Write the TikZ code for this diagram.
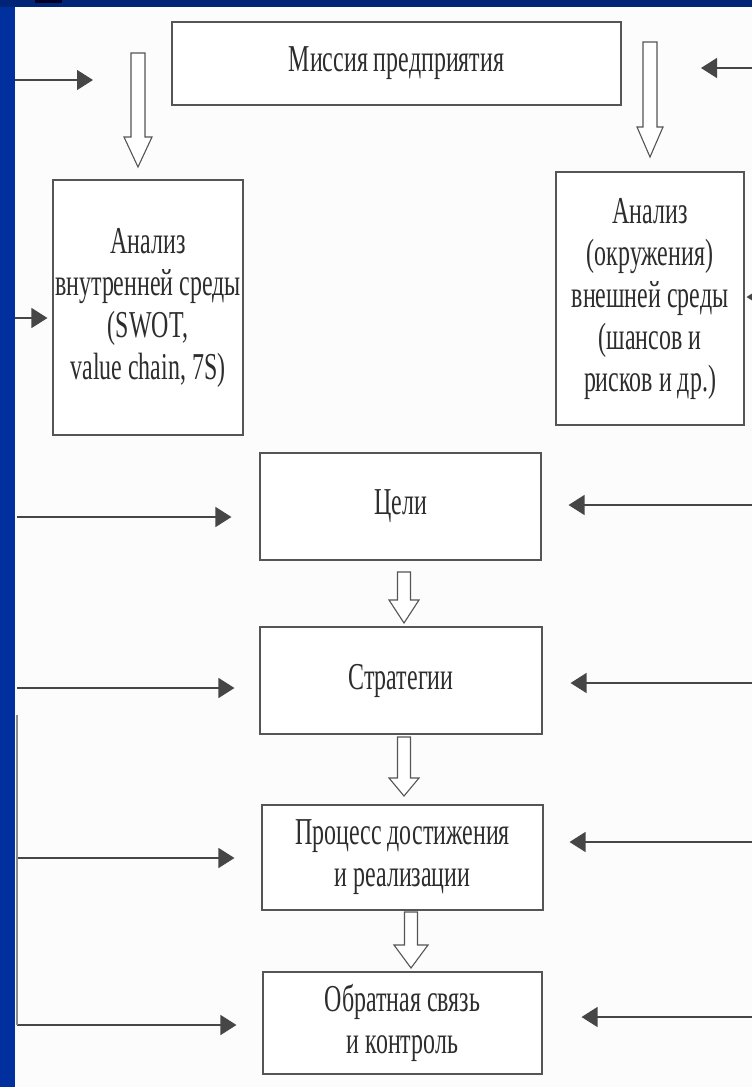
\documentclass[tikz,border=0pt]{standalone}
\usepackage{fontspec}
\setmainfont{Liberation Serif}[FakeStretch=0.63]
\usetikzlibrary{arrows.meta}
\definecolor{ink}{RGB}{45,45,45}
\definecolor{linec}{RGB}{85,85,85}
\definecolor{headc}{RGB}{70,70,70}
\definecolor{navy}{RGB}{0,36,118}
\definecolor{blueside}{RGB}{0,48,158}
\definecolor{paper}{RGB}{252,252,252}
\newcommand\hollowdown[6]{%
  \draw[hollow] (#1-#5,#2) -- (#1+#5,#2) -- (#1+#5,#3) -- (#1+#6,#3) -- (#1,#4)
    -- (#1-#6,#3) -- (#1-#5,#3) -- cycle;}
\begin{document}
\begin{tikzpicture}[x=1pt,y=-1pt,
  box/.style={draw=linec, line width=1.1pt, fill=white, align=center, text=ink,
    inner sep=0pt, font=\fontsize{38}{42}\selectfont},
  feed/.style={draw=headc, line width=1.3pt, -{Triangle[length=16pt,width=20pt]}},
  plainline/.style={draw=black!45, line width=1.1pt},
  hollow/.style={draw=linec, line width=1.1pt, fill=white, line join=miter}]
\useasboundingbox (0,0) rectangle (752,1087);
\fill[paper] (0,0) rectangle (752,1087);
\begin{scope}
\clip (0,0) rectangle (752,1087);
% boxes
\node[box, minimum width=449pt, minimum height=83pt] (mission) at (396.5,63.5) {Миссия предприятия};
\node[box, minimum width=190pt, minimum height=255pt] (internal) at (148,307.5)
  {Анализ\\внутренней среды\\(SWOT,\\value chain, 7S)};
\node[box, minimum width=188pt, minimum height=253pt] (external) at (650,298.5)
  {Анализ\\(окружения)\\внешней среды\\(шансов и\\рисков и др.)};
\node[box, minimum width=281pt, minimum height=107pt] (goals) at (400.5,506.5) {Цели};
\node[box, minimum width=282pt, minimum height=107pt] (strat) at (401,680.5) {Стратегии};
\node[box, minimum width=281pt, minimum height=105pt] (proc) at (402.5,857.5)
  {Процесс достижения\\и реализации};
\node[box, minimum width=279pt, minimum height=102pt] (fb) at (402.5,1023)
  {Обратная связь\\и контроль};
% hollow block arrows
\hollowdown{138}{53}{137}{167}{7}{14}
\hollowdown{650}{42}{127}{157}{7}{13}
\hollowdown{404}{572}{600}{623}{6.5}{15}
\hollowdown{404}{737}{778}{796}{6.5}{15}
\hollowdown{411}{912}{945}{968}{6.5}{17}
% left feeds
\coordinate (l0) at (15,80); \coordinate (l0t) at (93,80);
\coordinate (l1) at (15,318);
\coordinate (l2) at (17,517);
\coordinate (l3) at (17,688);
\coordinate (l4) at (17,858);
\coordinate (l5) at (17,1025);
\coordinate (lv) at (17,715);
\draw[feed] (l0) -- (l0t);
\draw[feed, shorten >=5pt] (l1) -- (internal.west |- l1);
\draw[feed, shorten >=28pt] (l2) -- (goals.west |- l2);
\draw[feed, shorten >=25pt] (l3) -- (strat.west |- l3);
\draw[feed, shorten >=27pt] (l4) -- (proc.west |- l4);
\draw[feed, shorten >=26pt] (l5) -- (fb.west |- l5);
\draw[plainline] (lv) -- (l5);
% right feeds
\coordinate (r0) at (752,68); \coordinate (r0t) at (701,68);
\coordinate (r1) at (770,297);
\coordinate (r2) at (752,505);
\coordinate (r3) at (752,683);
\coordinate (r4) at (752,842);
\coordinate (r5) at (752,1017);
\draw[feed] (r0) -- (r0t);
\draw[feed, shorten >=2pt] (r1) -- (external.east |- r1);
\draw[feed, shorten >=27pt] (r2) -- (goals.east |- r2);
\draw[feed, shorten >=28pt] (r3) -- (strat.east |- r3);
\draw[feed, shorten >=26pt] (r4) -- (proc.east |- r4);
\draw[feed, shorten >=39pt] (r5) -- (fb.east |- r5);
\end{scope}
% slide frame
\fill[navy] (0,0) rectangle (752,7);
\fill[blueside] (0,7) rectangle (15,1087);
\fill[black!85!blue] (35,0) rectangle (62,2.5);
\end{tikzpicture}
\end{document}
